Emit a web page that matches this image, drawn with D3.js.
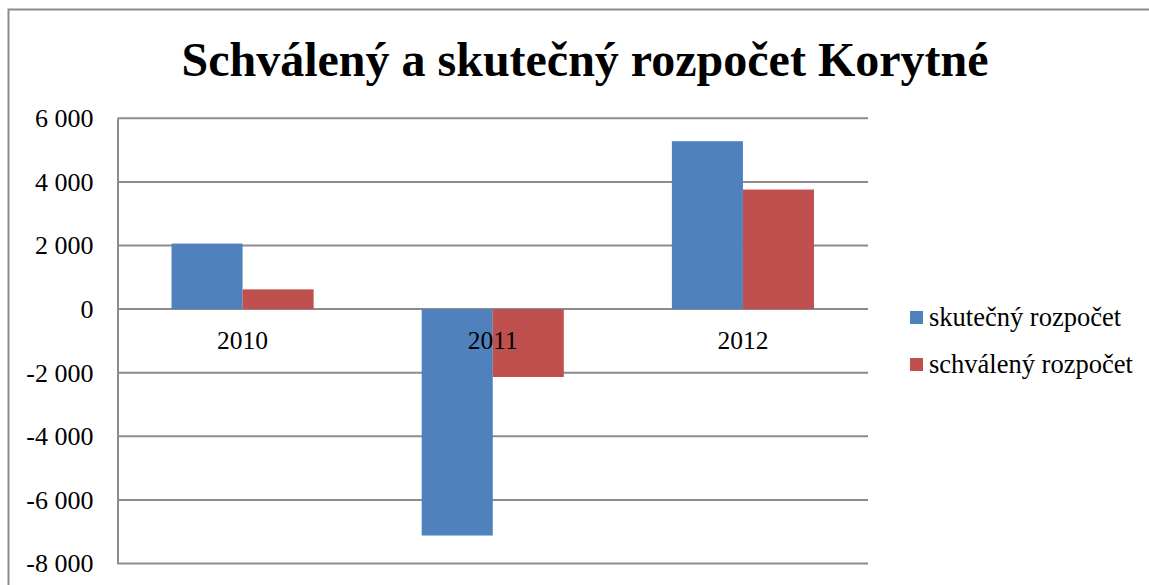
<!DOCTYPE html>
<html><head><meta charset="utf-8">
<script src="https://cdn.jsdelivr.net/npm/d3@7"></script>
<style>html,body{margin:0;padding:0;background:#fff;overflow:hidden}</style>
</head><body>
<svg id="c" width="1149" height="585"></svg>
<script>
const title = "Schválený a skutečný rozpočet Korytné";
const categories = ["2010", "2011", "2012"];
const seriesNames = ["skutečný rozpočet", "schválený rozpočet"];
const skutecny = [2060, -7120, 5280];
const schvaleny = [620, -2135, 3760];
const yTicks = [-8000, -6000, -4000, -2000, 0, 2000, 4000, 6000];
const colors = ["#4F81BD", "#C0504D"];

const svg = d3.select("#c");
const font = "'Liberation Serif','Times New Roman',serif";
const grid = "#8c8c8c";

// outer frame
svg.append("rect").attr("x", 8.5).attr("y", 9.5).attr("width", 1200).attr("height", 700)
  .attr("fill", "none").attr("stroke", grid).attr("stroke-width", 2);

svg.append("text").attr("x", 585).attr("y", 76).attr("text-anchor", "middle")
  .attr("font-family", font).attr("font-weight", "bold").attr("font-size", 48)
  .text(title);

const L = 117.5, R = 868, T = 118.3, B = 563.5;
const y = d3.scaleLinear().domain([-8000, 6000]).range([B, T]);
const x = d3.scaleBand().domain(categories).range([L, R]).paddingInner(0.432).paddingOuter(0.216);
const xs = d3.scaleBand().domain(seriesNames).range([0, x.bandwidth()]);

// gridlines
svg.append("g").selectAll("line").data(yTicks).join("line")
  .attr("x1", L).attr("x2", R).attr("y1", d => y(d)).attr("y2", d => y(d))
  .attr("stroke", grid).attr("stroke-width", 2);

// bars
const data = [skutecny, schvaleny];
data.forEach((vals, si) => {
  svg.append("g").selectAll("rect").data(vals).join("rect")
    .attr("x", (d, i) => x(categories[i]) + xs(seriesNames[si]))
    .attr("width", xs.bandwidth())
    .attr("y", d => Math.min(y(d), y(0)))
    .attr("height", d => Math.abs(y(d) - y(0)))
    .attr("fill", colors[si]);
});

// y axis
const yAxis = d3.axisLeft(y).tickValues(yTicks).tickSize(0).tickPadding(24)
  .tickFormat(d => d3.format(",")(d).replace(/,/g, " ").replace("−", "-"));
const ga = svg.append("g").attr("transform", `translate(${L},0)`).call(yAxis);
ga.select(".domain").attr("stroke", grid).attr("stroke-width", 2);
ga.selectAll("text").attr("font-family", font).attr("font-size", 26).attr("fill", "#000");

// category labels
const xAxis = d3.axisBottom(x).tickSize(0).tickPadding(0);
const gx = svg.append("g").attr("transform", `translate(0,${y(0)})`).call(xAxis);
gx.select(".domain").remove();
gx.selectAll("text").attr("font-family", font).attr("font-size", 25.5).attr("fill", "#000")
  .attr("dy", null).attr("y", 40);

// legend
const lg = svg.append("g");
seriesNames.forEach((n, i) => {
  const yy = 311 + i * 47;
  lg.append("rect").attr("x", 910).attr("y", yy).attr("width", 13).attr("height", 13).attr("fill", colors[i]);
  lg.append("text").attr("x", 929).attr("y", yy + 14.5).attr("font-family", font).attr("font-size", 26.5).text(n);
});
</script>
</body></html>
